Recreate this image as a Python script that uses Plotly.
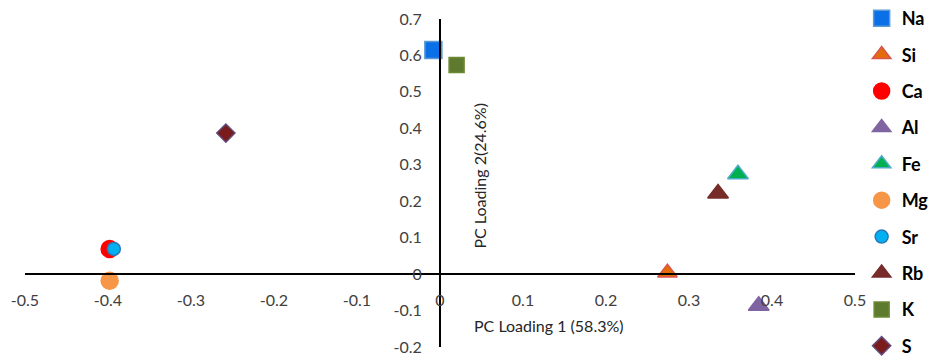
import plotly.graph_objects as go

elements = ["Na", "Si", "Ca", "Al", "Fe", "Mg", "Sr", "Rb", "K", "S"]
pc1 = [-0.008, 0.274, -0.398, 0.384, 0.359, -0.398, -0.393, 0.335, 0.020, -0.258]
pc2 = [0.615, 0.004, 0.069, -0.087, 0.274, -0.018, 0.069, 0.221, 0.574, 0.387]

symbols = ["square", "triangle-up", "circle", "triangle-up", "triangle-up", "circle", "circle", "triangle-up", "square", "diamond"]
sizes = [17, 17, 17, 18, 18, 17, 13, 18, 15, 14]
fills = ["#0B6FE8", "#E36C09", "#FF0000", "#8064A2", "#00B050", "#F79646", "#00B0F0", "#772C2A", "#5E7A2E", "#7B1C1C"]
borders = ["#5B9BD5", "#D9534F", "#FF0000", "#8064A2", "#4BACC6", "#F79646", "#2E75B6", "#772C2A", "#6B8A35", "#604A7B"]

x_ticks = [-0.5, -0.4, -0.3, -0.2, -0.1, 0, 0.1, 0.2, 0.3, 0.4, 0.5]
y_ticks = [-0.2, -0.1, 0, 0.1, 0.2, 0.3, 0.4, 0.5, 0.6, 0.7]
x_range = [-0.5, 0.5]
y_range = [-0.2, 0.7]

fig = go.Figure()
for i, name in enumerate(elements):
    fig.add_trace(go.Scatter(
        x=[pc1[i]], y=[pc2[i]], mode="markers", name=name, legendgroup=name,
        marker=dict(symbol=symbols[i], size=sizes[i], color=fills[i],
                    line=dict(color=borders[i], width=1.5)),
    ))

font_family = "Lato, 'Open Sans', sans-serif"
tick_font = dict(family=font_family, size=16, color="#404040")

fig.update_layout(
    width=930, height=357,
    margin=dict(l=25, r=75, t=19, b=10, autoexpand=False),
    plot_bgcolor="white", paper_bgcolor="white",
    showlegend=True,
    legend=dict(
        x=1.008, xanchor="left", y=1.058, yanchor="top",
        traceorder="grouped", tracegroupgap=10,
        font=dict(family=font_family, size=18, color="#000000", weight="bold"),
        bgcolor="rgba(0,0,0,0)",
    ),
    xaxis=dict(
        range=x_range, tickvals=x_ticks, ticktext=[f"{v:g}" for v in x_ticks],
        showgrid=False, zeroline=False, showline=True, linecolor="black", linewidth=2,
        anchor="free", position=(0 - y_range[0]) / (y_range[1] - y_range[0]),
        ticks="", ticklabelstandoff=12, tickfont=tick_font, automargin=False,
    ),
    yaxis=dict(
        range=y_range, tickvals=y_ticks, ticktext=[f"{v:g}" for v in y_ticks],
        showgrid=False, zeroline=False, showline=True, linecolor="black", linewidth=2,
        anchor="free", position=(0 - x_range[0]) / (x_range[1] - x_range[0]),
        ticks="", ticklabelstandoff=14, tickfont=tick_font, automargin=False,
    ),
    annotations=[
        dict(text="PC Loading 1 (58.3%)", xref="x", yref="y", x=0.131, y=-0.14,
             showarrow=False, font=dict(family=font_family, size=16, color="#262626")),
        dict(text="PC Loading 2(24.6%)", xref="x", yref="y", x=0.048, y=0.27,
             textangle=-90, showarrow=False, font=dict(family=font_family, size=16, color="#262626")),
    ],
)
try:
    fig.update_layout(legend_maxheight=400)
except ValueError:
    pass

fig.write_html(
    "out.html",
    config={"displayModeBar": False},
    post_script="document.body.style.margin='0';document.body.style.overflow='hidden';",
)
